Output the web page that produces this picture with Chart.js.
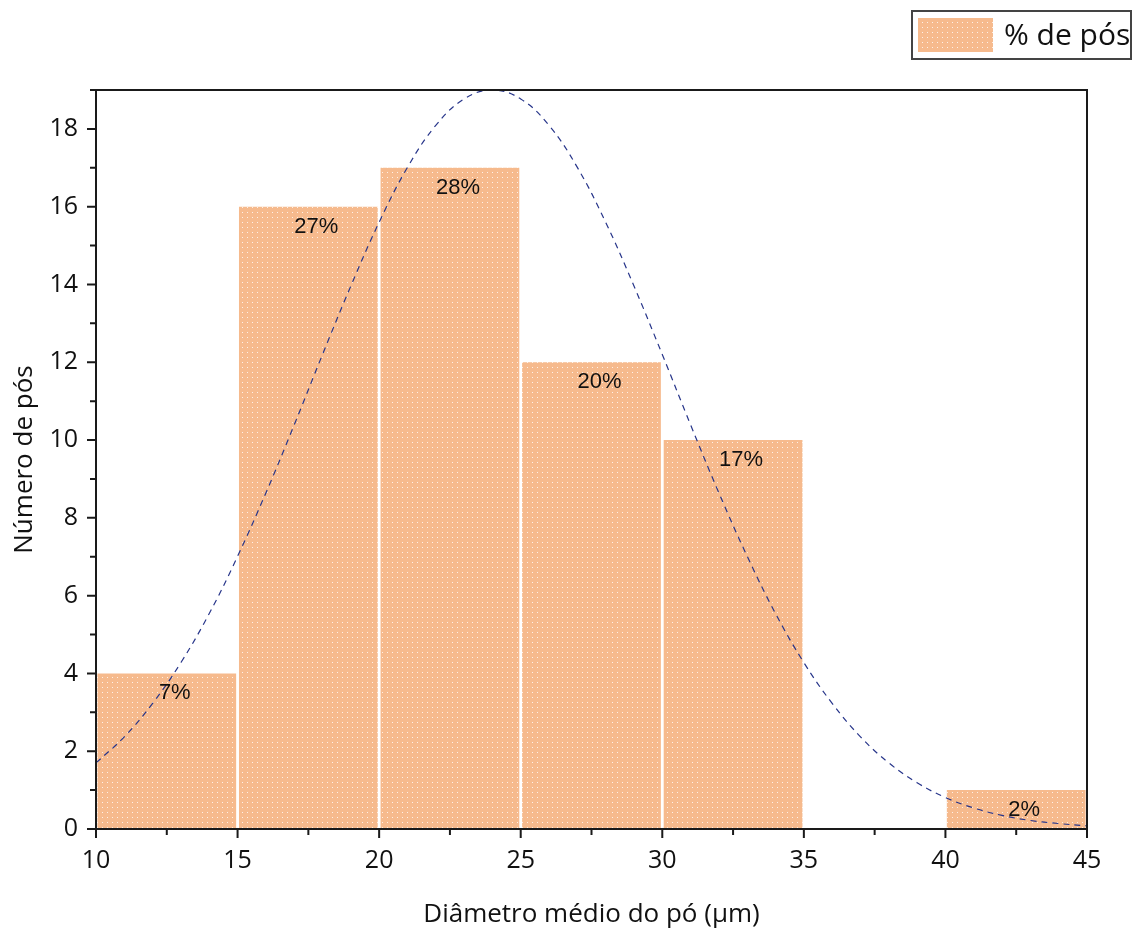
<!DOCTYPE html>
<html>
<head>
<meta charset="utf-8">
<script src="https://cdn.jsdelivr.net/npm/chart.js@4"></script>
<style>
  html, body { margin: 0; padding: 0; background: #fff; }
  #wrap { width: 1135px; height: 936px; }
</style>
</head>
<body>
<div id="wrap"><canvas id="histChart" width="1135" height="936"></canvas></div>
<script>
// bins (µm) and counts
const binStarts = [10, 15, 20, 25, 30, 35, 40];
const binWidth = 5;
const counts = [4, 16, 17, 12, 10, 0, 1];
const percentLabels = ['7%', '27%', '28%', '20%', '17%', '', '2%'];

// fitted curve
const curveX = [10, 11, 12, 13, 14, 15, 16, 17, 18, 19, 20, 21, 22, 23, 24, 25, 26, 27,
                28, 29, 30, 31, 32, 33, 34, 35, 36, 37, 38, 39, 40, 41, 42, 43, 44, 45];
const curveY = [1.70, 2.37, 3.23, 4.28, 5.54, 7.01, 8.64, 10.39, 12.20, 13.96, 15.60, 17.01,
                18.09, 18.77, 19.0, 18.77, 18.09, 17.01, 15.60, 13.96, 12.20, 10.39, 8.64,
                7.01, 5.54, 4.28, 3.23, 2.37, 1.70, 1.19, 0.81, 0.54, 0.35, 0.22, 0.14, 0.08];

const xTicks = [10, 15, 20, 25, 30, 35, 40, 45];
const yTicks = [0, 2, 4, 6, 8, 10, 12, 14, 16, 18];

const legendText = '% de pós';
const xTitle = 'Diâmetro médio do pó (\u03bcm)';
const yTitle = 'Número de pós';

const AXIS_FONT = '"Open Sans", "DejaVu Sans", sans-serif';
const LINE = '#1a1a1a';

function makePattern() {
    const c = document.createElement('canvas');
    c.width = 5; c.height = 5;
    const g = c.getContext('2d');
    g.fillStyle = '#F6BA8D';
    g.fillRect(0, 0, 5, 5);
    g.fillStyle = 'rgba(255,255,255,0.8)';
    g.fillRect(2, 2, 1, 1);
    return g.createPattern(c, 'repeat');
}
const fillPattern = makePattern();

const frameAndTicks = {
    id: 'frameAndTicks',
    afterDraw(chart) {
        const { ctx, chartArea: a, scales } = chart;
        const xs = scales.x, ys = scales.y;
        ctx.save();
        ctx.strokeStyle = LINE;
        ctx.lineWidth = 2;
        ctx.strokeRect(a.left, a.top, a.right - a.left, a.bottom - a.top);
        ctx.beginPath();
        for (let v = 10; v <= 45; v += 2.5) {
            const px = xs.getPixelForValue(v);
            const len = (v % 5 === 0) ? 9 : 6;
            ctx.moveTo(px, a.bottom);
            ctx.lineTo(px, a.bottom + len);
        }
        for (let v = 0; v <= 19; v += 1) {
            const py = ys.getPixelForValue(v);
            const len = (v % 2 === 0) ? 9 : 6;
            ctx.moveTo(a.left, py);
            ctx.lineTo(a.left - len, py);
        }
        ctx.stroke();
        ctx.restore();
    }
};

const barLabels = {
    id: 'barLabels',
    afterDatasetsDraw(chart) {
        const { ctx } = chart;
        const meta = chart.getDatasetMeta(0);
        ctx.save();
        ctx.fillStyle = '#111';
        ctx.font = '22px "Liberation Sans", Arial, sans-serif';
        ctx.textAlign = 'center';
        ctx.textBaseline = 'middle';
        meta.data.forEach((bar, i) => {
            if (!percentLabels[i]) return;
            ctx.fillText(percentLabels[i], bar.x + 8, bar.y + 20);
        });
        ctx.restore();
    }
};

const boxLegend = {
    id: 'boxLegend',
    afterDraw(chart) {
        const { ctx } = chart;
        ctx.save();
        ctx.strokeStyle = '#444';
        ctx.lineWidth = 2;
        ctx.strokeRect(912, 11, 219, 48);
        ctx.fillStyle = fillPattern;
        ctx.fillRect(918, 18, 75, 34);
        ctx.fillStyle = '#111';
        ctx.font = '30px ' + AXIS_FONT;
        ctx.textAlign = 'left';
        ctx.textBaseline = 'middle';
        ctx.fillText(legendText, 1004, 36);
        ctx.restore();
    }
};

const ctx = document.getElementById('histChart');
new Chart(ctx, {
    data: {
        datasets: [{
            type: 'bar',
            label: legendText,
            data: binStarts.map((s, i) => ({ x: s + binWidth / 2, y: counts[i] })),
            backgroundColor: fillPattern,
            borderWidth: 0,
            barPercentage: 1,
            categoryPercentage: 0.98,
            order: 2
        }, {
            type: 'line',
            label: 'curve',
            data: curveX.map((x, i) => ({ x: x, y: curveY[i] })),
            borderColor: '#27358a',
            borderWidth: 1.2,
            borderDash: [6, 5],
            pointRadius: 0,
            tension: 0.4,
            fill: false,
            order: 1
        }]
    },
    options: {
        responsive: false,
        animation: false,
        layout: { padding: { top: 90, right: 48, left: 0, bottom: 0 } },
        plugins: {
            legend: { display: false },
            tooltip: { enabled: false }
        },
        scales: {
            x: {
                type: 'linear',
                min: 10,
                max: 45,
                offset: false,
                afterBuildTicks(scale) { scale.ticks = xTicks.map(v => ({ value: v })); },
                afterFit(scale) { scale.height = 107; },
                grid: { display: false, drawTicks: false },
                border: { display: false },
                ticks: {
                    padding: 17,
                    color: '#111',
                    font: { family: AXIS_FONT, size: 25 },
                    maxRotation: 0
                },
                title: {
                    display: true,
                    text: xTitle,
                    color: '#111',
                    font: { family: AXIS_FONT, size: 26 },
                    padding: { top: 10, bottom: 6 }
                }
            },
            y: {
                min: 0,
                max: 19,
                afterBuildTicks(scale) { scale.ticks = yTicks.map(v => ({ value: v })); },
                afterFit(scale) { scale.width = 96; },
                grid: { display: false, drawTicks: false },
                border: { display: false },
                ticks: {
                    padding: 18,
                    color: '#111',
                    font: { family: AXIS_FONT, size: 25 }
                },
                title: {
                    display: true,
                    text: yTitle,
                    color: '#111',
                    font: { family: AXIS_FONT, size: 26 },
                    padding: { top: 9, bottom: 0 }
                }
            }
        }
    },
    plugins: [barLabels, frameAndTicks, boxLegend]
});
</script>
</body>
</html>
